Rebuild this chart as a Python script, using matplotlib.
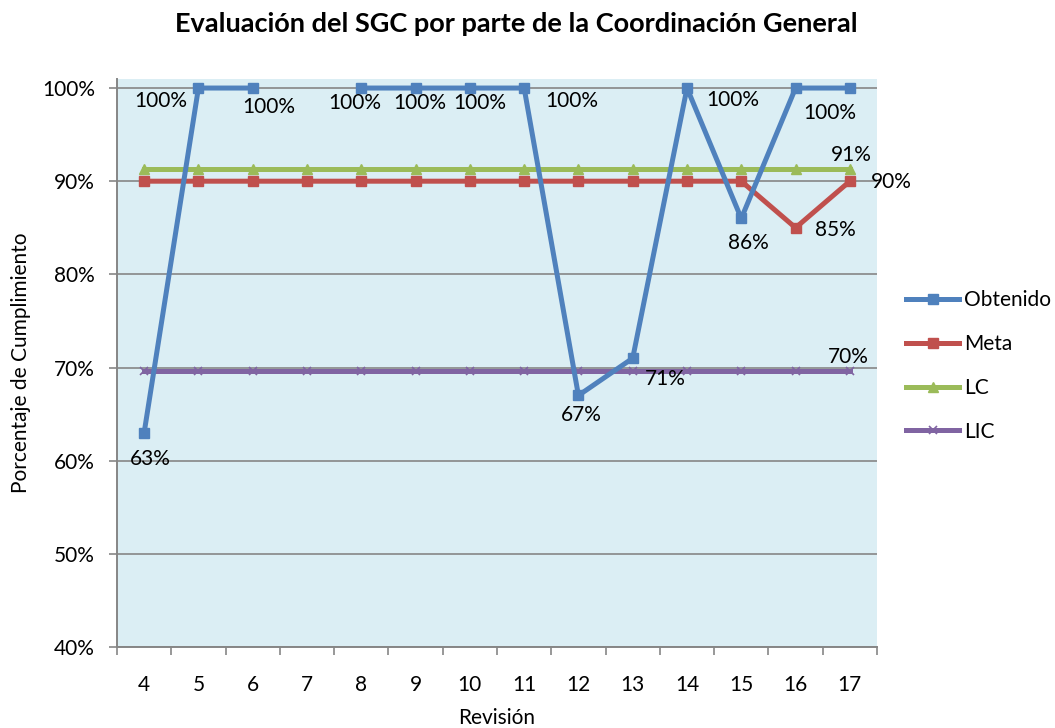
import numpy as np
import matplotlib
matplotlib.use("Agg")
import matplotlib.pyplot as plt
from matplotlib.ticker import PercentFormatter

plt.rcParams['font.family'] = ['Lato', 'DejaVu Sans']

revisiones = ["4", "5", "6", "7", "8", "9", "10", "11", "12", "13", "14", "15", "16", "17"]
obtenido = [0.63, 1.00, 1.00, np.nan, 1.00, 1.00, 1.00, 1.00, 0.67, 0.71, 1.00, 0.86, 1.00, 1.00]
meta = [0.90] * 11 + [0.90, 0.85, 0.90]
lc = [0.913] * 14
lic = [0.696] * 14

# data labels: (index, dx_px, dy_px)  dy positive = down
obt_labels = [(0, 6, 26), (1, -38, 13), (2, 16, 19), (4, -7, 15), (5, 4, 15), (6, 10, 15),
              (7, 48, 13), (8, 3, 20), (9, 33, 21), (10, 46, 12), (11, 7, 25), (12, 34, 25)]
meta_labels = [(12, 40, 2), (13, 41, 1)]
lc_labels = [(13, 1, -14)]
lic_labels = [(13, -2, -14)]

C_OBT = "#4F81BD"
C_META = "#C0504D"
C_LC = "#9BBB59"
C_LIC = "#8064A2"
GRID = "#868686"

W, H = 1055, 728
fig = plt.figure(figsize=(W / 100, H / 100), dpi=100)
ax = fig.add_axes([117 / W, (H - 647) / H, (877 - 117) / W, (647 - 79) / H])
ax.set_facecolor("#DBEEF4")

x = np.arange(len(revisiones))
lw = 3.6
ax.plot(x, lic, color=C_LIC, lw=lw, marker="x", ms=6, mew=1.2, label="LIC", zorder=3)
ax.plot(x, lc, color=C_LC, lw=lw, marker="^", ms=7, label="LC", zorder=3)
ax.plot(x, meta, color=C_META, lw=lw, marker="s", ms=7, label="Meta", zorder=4)
ax.plot(x, obtenido, color=C_OBT, lw=lw, marker="s", ms=7, label="Obtenido", zorder=5)

ax.set_xlim(-0.5, len(revisiones) - 0.5)
ax.set_ylim(0.4, 1.0097)
ax.set_yticks([0.4, 0.5, 0.6, 0.7, 0.8, 0.9, 1.0])
ax.yaxis.set_major_formatter(PercentFormatter(1.0, decimals=0))
ax.set_xticks(x)
ax.set_xticklabels(revisiones)
ax.set_xticks(np.arange(-0.5, len(revisiones), 1.0), minor=True)
ax.tick_params(axis="x", which="major", length=0, pad=20, labelsize=15)
ax.tick_params(axis="x", which="minor", length=5.8, width=1.2, color=GRID, direction="out")
ax.tick_params(axis="y", length=5.8, width=1.2, color=GRID, labelsize=15, pad=10)
ax.grid(axis="y", color=GRID, lw=1.2, zorder=1)
ax.set_axisbelow(True)
for s in ["top", "right"]:
    ax.spines[s].set_visible(False)
for s in ["left", "bottom"]:
    ax.spines[s].set_color(GRID)
    ax.spines[s].set_linewidth(1.4)

def put(series, labels):
    for i, dx, dy in labels:
        v = series[i]
        ax.annotate(f"{v*100:.0f}%", (x[i], v), xytext=(dx / 1.389, -dy / 1.389),
                    textcoords="offset points", ha="center", va="center",
                    fontsize=15, color="black", zorder=6)

put(obtenido, obt_labels)
put(meta, meta_labels)
put(lc, lc_labels)
put(lic, lic_labels)

ax.set_ylabel("Porcentaje de Cumplimiento", fontsize=15)
ax.yaxis.set_label_coords(-(117 - 31) / (877 - 117), 0.5)
ax.set_xlabel("Revisión", fontsize=15)
ax.xaxis.set_label_coords(0.5, -(708 - 647) / (647 - 79))

fig.suptitle("Evaluación del SGC por parte de la Coordinación General",
             x=516 / W, y=1 - 24 / H, fontsize=19.5, fontweight="bold", va="center")

h, l = ax.get_legend_handles_labels()
order = [3, 2, 1, 0]
ax.legend([h[i] for i in order], [l[i] for i in order], loc="upper left",
          bbox_to_anchor=(898 / W, (H - 282) / H), bbox_transform=fig.transFigure,
          frameon=False, fontsize=15, handlelength=2.55, handletextpad=0.2,
          labelspacing=1.14, borderaxespad=0)

fig.savefig("out.png", dpi=100)
